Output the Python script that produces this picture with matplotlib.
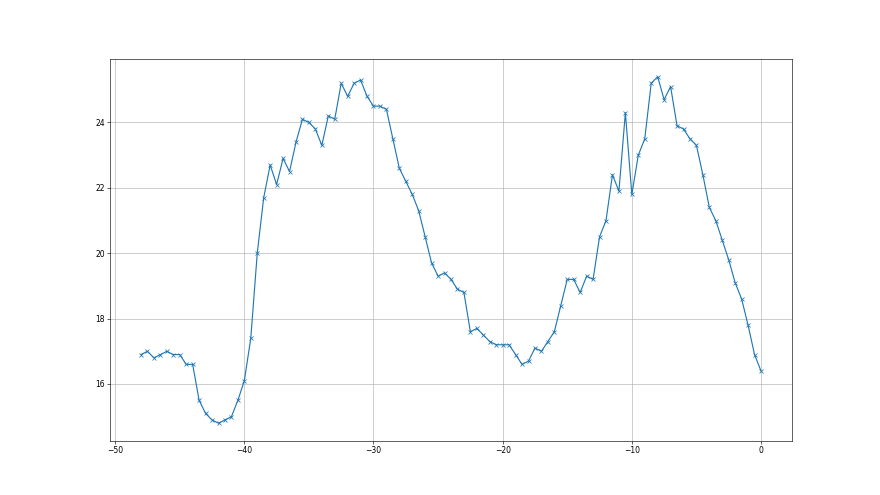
import numpy as np
import matplotlib
matplotlib.use("Agg")
import matplotlib.pyplot as plt

x = np.arange(-48, 0.01, 0.5)
y = [16.9, 17.0, 16.8, 16.9, 17.0, 16.9, 16.9, 16.6, 16.6, 15.5,
     15.1, 14.9, 14.8, 14.9, 15.0, 15.5, 16.1, 17.4, 20.0, 21.7,
     22.7, 22.1, 22.9, 22.5, 23.4, 24.1, 24.0, 23.8, 23.3, 24.2,
     24.1, 25.2, 24.8, 25.2, 25.3, 24.8, 24.5, 24.5, 24.4, 23.5,
     22.6, 22.2, 21.8, 21.3, 20.5, 19.7, 19.3, 19.4, 19.2, 18.9,
     18.8, 17.6, 17.7, 17.5, 17.3, 17.2, 17.2, 17.2, 16.9, 16.6,
     16.7, 17.1, 17.0, 17.3, 17.6, 18.4, 19.2, 19.2, 18.8, 19.3,
     19.2, 20.5, 21.0, 22.4, 21.9, 24.3, 21.8, 23.0, 23.5, 25.2,
     25.4, 24.7, 25.1, 23.9, 23.8, 23.5, 23.3, 22.4, 21.4, 21.0,
     20.4, 19.8, 19.1, 18.6, 17.8, 16.9, 16.4]

fig, ax = plt.subplots(figsize=(16, 9), dpi=55)
ax.plot(x, y, marker='x', color='tab:blue')
ax.grid(True)
fig.savefig("out.png")
